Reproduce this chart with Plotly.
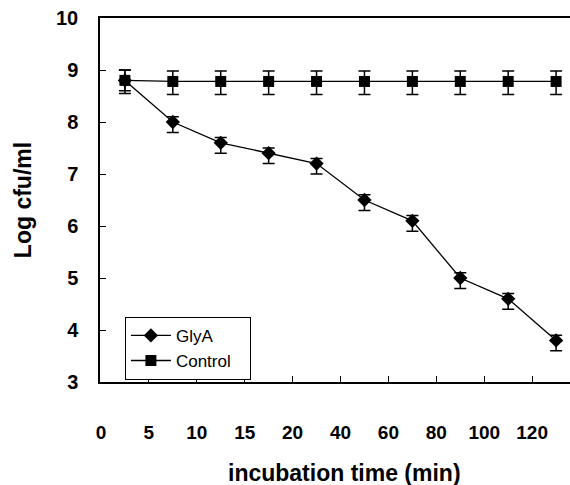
import plotly.graph_objects as go

# ---- data ----
time_labels = ["0", "5", "10", "15", "20", "40", "60", "80", "100", "120"]
point_index = [0, 1, 2, 3, 4, 5, 6, 7, 8, 9]
glya = [8.8, 8.0, 7.6, 7.4, 7.2, 6.5, 6.1, 5.0, 4.6, 3.8]
glya_err_plus = [0.2, 0.1, 0.1, 0.1, 0.1, 0.1, 0.1, 0.1, 0.1, 0.1]
glya_err_minus = [0.2, 0.2, 0.2, 0.2, 0.2, 0.2, 0.2, 0.2, 0.2, 0.2]
control = [8.8, 8.78, 8.78, 8.78, 8.78, 8.78, 8.78, 8.78, 8.78, 8.78]
control_err_plus = [0.2] * 10
control_err_minus = [0.25] * 10
series_names = ["GlyA", "Control"]
tick_positions = [i - 0.5 for i in range(len(time_labels))]

FONT = "Arial, 'Liberation Sans', sans-serif"

fig = go.Figure()
fig.add_trace(go.Scatter(
    x=point_index, y=glya, name=series_names[0], mode="lines+markers",
    line=dict(color="black", width=1.3),
    marker=dict(symbol="diamond", size=11, color="black"),
    error_y=dict(type="data", symmetric=False, array=glya_err_plus,
                 arrayminus=glya_err_minus, color="black", thickness=1.5, width=6),
))
fig.add_trace(go.Scatter(
    x=point_index, y=control, name=series_names[1] + "&nbsp;&nbsp;&nbsp;", mode="lines+markers",
    line=dict(color="black", width=1.3),
    marker=dict(symbol="square", size=11, color="black"),
    error_y=dict(type="data", symmetric=False, array=control_err_plus,
                 arrayminus=control_err_minus, color="black", thickness=1.5, width=6),
))

fig.update_layout(
    width=570, height=485,
    margin=dict(l=100, r=0, t=18, b=103),
    paper_bgcolor="white", plot_bgcolor="white",
    font=dict(family=FONT, color="black"),
    showlegend=True,
    legend=dict(
        x=0.053, y=0.179, xanchor="left", yanchor="top",
        bordercolor="black", borderwidth=1, bgcolor="white",
        font=dict(size=17, family=FONT), itemwidth=40,
        tracegroupgap=0,
    ),
    annotations=[dict(
        text="<b>incubation time (min)</b>", x=0.52, y=-0.25,
        xref="paper", yref="paper", xanchor="center", yanchor="middle",
        showarrow=False, font=dict(size=23, family=FONT),
    )],
)
fig.update_xaxes(
    range=[-0.52, 9.29], tickmode="array", tickvals=tick_positions,
    ticktext=["<b>%s</b>" % t for t in time_labels],
    tickfont=dict(size=19, family=FONT),
    ticks="inside", ticklen=6, tickcolor="black", tickwidth=1,
    showline=True, linecolor="black", linewidth=1.5, mirror=True,
    showgrid=False, zeroline=False, ticklabelstandoff=32,
)
fig.update_yaxes(
    range=[3, 10], dtick=1, tickmode="linear",
    tickfont=dict(size=20, family=FONT), tickprefix="<b>", ticksuffix="</b>",
    ticks="inside", ticklen=6, tickcolor="black", tickwidth=1,
    showline=True, linecolor="black", linewidth=1.5,
    showgrid=False, zeroline=False, ticklabelstandoff=16,
    title=dict(text="<b>Log cfu/ml</b>", font=dict(size=23, family=FONT), standoff=18),
)

fig.write_html("out.html")
